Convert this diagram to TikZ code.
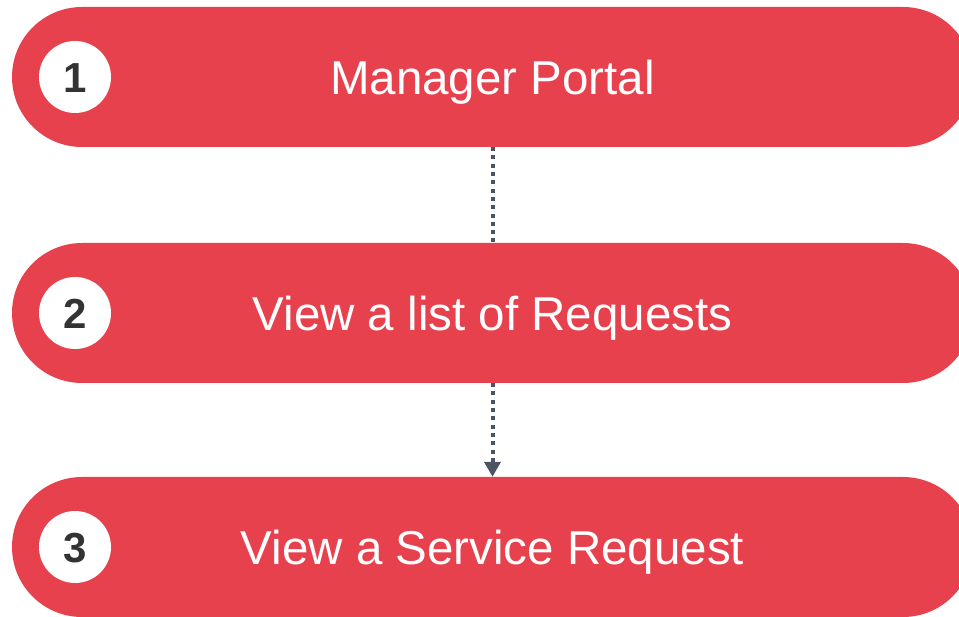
\documentclass[tikz,border=0pt]{standalone}
\usepackage{fontspec}
\setmainfont{Liberation Sans}
\usepackage{tikz}
\usetikzlibrary{arrows.meta, positioning}
\definecolor{pillred}{RGB}{232,65,78}
\definecolor{numgray}{RGB}{51,51,51}
\definecolor{linkgray}{RGB}{74,84,98}

\begin{document}
\begin{tikzpicture}[
        x=1pt, y=-1pt,
        pill/.style={rectangle, rounded corners=70pt, fill=pillred, minimum width=961pt, minimum height=140pt, inner sep=0pt, text height=35pt, text depth=0pt, text=white, font=\fontsize{47.5}{56}\selectfont},
        badge/.style={circle, fill=white, minimum size=72pt, inner sep=0pt, text height=31pt, text depth=0pt, text=numgray, font=\fontsize{42}{50}\selectfont\bfseries},
        link/.style={linkgray, line width=4pt, dash pattern=on 4pt off 4.3pt}
    ]
        \useasboundingbox (0,0) rectangle (959,617);
        \clip (0,0) rectangle (959,617);

        % Steps
        \node[pill] (portal)   at (492.5, 77)  {Manager Portal};
        \node[pill] (list)     at (492.5, 313) {View a list of Requests};
        \node[pill] (request)  at (492.5, 547) {View a Service Request};

        % Numbers
        \node[badge] (num1) at (75, 77)  {1};
        \node[badge] (num2) at (75, 313) {2};
        \node[badge] (num3) at (75, 547) {3};

        % Links
        \draw[link] (portal.south) -- (list.north);
        \draw[link, -{Triangle[width=16pt, length=15pt]}] (list.south) -- (request.north);
    \end{tikzpicture}
\end{document}
